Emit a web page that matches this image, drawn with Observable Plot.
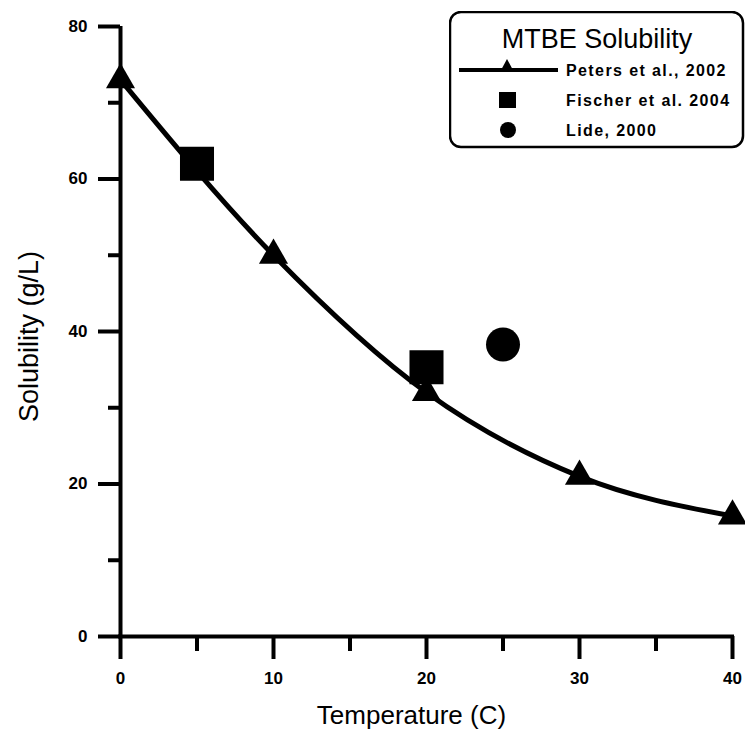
<!DOCTYPE html>
<html><head><meta charset="utf-8">
<script src="https://cdn.jsdelivr.net/npm/d3@7"></script>
<script src="https://cdn.jsdelivr.net/npm/@observablehq/plot@0.6"></script>
<style>
body{margin:0;background:#fff;}
#wrap{position:relative;width:745px;height:732px;}
#legend{position:absolute;left:449px;top:11px;}
</style></head><body><div id="wrap"></div>
<script>
// ---- data ----
const petersTemp = [0, 10, 20, 30, 40];
const petersSol = [73, 50, 32, 21, 15.8];
const fischerTemp = [5, 20];
const fischerSol = [62, 35.3];
const lideTemp = [25];
const lideSol = [38.3];
const yMajor = [0, 20, 40, 60, 80];
const yMinor = [10, 30, 50, 70];
const xMajor = [0, 10, 20, 30, 40];
const xMinor = [5, 15, 25, 35];
const xTitle = "Temperature (C)";
const yTitle = "Solubility (g/L)";
const legendTitle = "MTBE Solubility";
const seriesNames = ["Peters et al., 2002", "Fischer et al. 2004", "Lide, 2000"];

const peters = petersTemp.map((t, i) => ({t, s: petersSol[i]}));
const fischer = fischerTemp.map((t, i) => ({t, s: fischerSol[i]}));
const lide = lideTemp.map((t, i) => ({t, s: lideSol[i]}));

const font = "'Liberation Sans', Arial, Helvetica, sans-serif";

const chart = Plot.plot({
  width: 745, height: 732,
  marginLeft: 120, marginRight: 13, marginTop: 26, marginBottom: 96,
  style: {fontFamily: font, background: "white", color: "black", overflow: "visible"},
  x: {domain: [0, 40]},
  y: {domain: [0, 80]},
  marks: [
    Plot.axisY({ticks: yMinor, tickSize: 12, strokeWidth: 4, tickFormat: () => "", label: null}),
    Plot.axisY({ticks: yMajor, tickSize: 22, strokeWidth: 4, tickPadding: 11, fontSize: 17, fontWeight: "bold", label: null}),
    Plot.axisX({ticks: xMinor, tickSize: 15, strokeWidth: 4, tickFormat: () => "", label: null}),
    Plot.axisX({ticks: xMajor, tickSize: 23, strokeWidth: 4, tickPadding: 12, fontSize: 17, fontWeight: "bold", label: null}),
    Plot.ruleX([0], {y1: 0, y2: 80, strokeWidth: 4}),
    Plot.ruleY([0], {x1: 0, x2: 40, strokeWidth: 4, strokeLinecap: "square"}),
    Plot.text([yTitle], {frameAnchor: "left", textAnchor: "middle", lineAnchor: "middle", rotate: -90, dx: -91, dy: 5, fontSize: 27, fill: "black"}),
    Plot.text([xTitle], {frameAnchor: "bottom", textAnchor: "middle", lineAnchor: "middle", dx: -15, dy: 79, fontSize: 26, fill: "black"}),
    Plot.line(peters, {x: "t", y: "s", curve: "monotone-x", strokeWidth: 5, stroke: "black"}),
    Plot.dot(peters, {x: "t", y: "s", symbol: "triangle", r: 10.8, fill: "black", stroke: null}),
    Plot.dot(fischer, {x: "t", y: "s", symbol: "square", r: 19.2, fill: "black", stroke: null}),
    Plot.dot(lide, {x: "t", y: "s", symbol: "circle", r: 17, fill: "black", stroke: null})
  ]
});
const wrap = document.getElementById("wrap");
wrap.appendChild(chart);

// legend overlay
const leg = document.createElement("div");
leg.id = "legend";
leg.innerHTML = `<svg width="296" height="138" xmlns="http://www.w3.org/2000/svg" style="font-family:${font}">
  <rect x="1" y="1" width="293" height="135" rx="11" ry="11" fill="white" stroke="black" stroke-width="2.5"/>
  <text x="148" y="28" text-anchor="middle" dominant-baseline="central" font-size="27">${legendTitle}</text>
  <line x1="10" y1="59" x2="109" y2="59" stroke="black" stroke-width="4"/>
  <path d="M58,48 L51,61 L65,61 Z" fill="black"/>
  <rect x="50" y="81" width="17" height="16" fill="black"/>
  <circle cx="59" cy="119" r="8" fill="black"/>
  <text x="117" y="59" dominant-baseline="central" font-size="16" font-weight="bold" letter-spacing="1.4">${seriesNames[0]}</text>
  <text x="117" y="89" dominant-baseline="central" font-size="16" font-weight="bold" letter-spacing="1.4">${seriesNames[1]}</text>
  <text x="117" y="119" dominant-baseline="central" font-size="16" font-weight="bold" letter-spacing="1.4">${seriesNames[2]}</text>
</svg>`;
wrap.appendChild(leg);
</script></body></html>
